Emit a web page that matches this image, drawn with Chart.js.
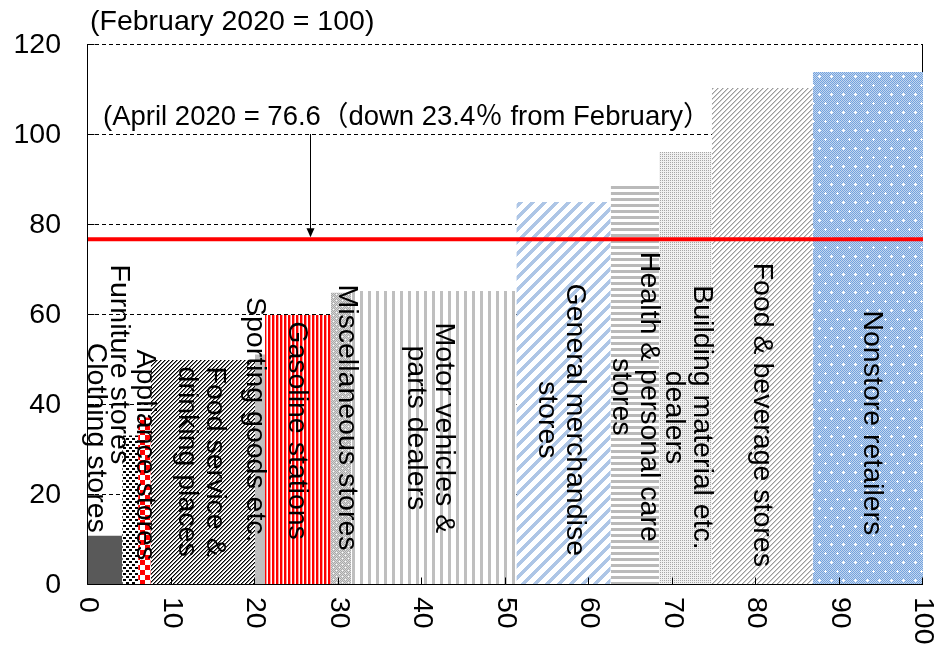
<!DOCTYPE html>
<html>
<head>
<meta charset="utf-8">
<script src="https://cdn.jsdelivr.net/npm/chart.js@4.4.1/dist/chart.umd.min.js"></script>
<style>
  html, body { margin: 0; padding: 0; background: #ffffff; }
  #wrap { width: 936px; height: 648px; position: relative; }
</style>
</head>
<body>
<div id="wrap"><canvas id="c" width="936" height="648"></canvas></div>
<script>
// Retail sales by kind of business, April 2020 (February 2020 = 100).
// Bar width = share of total sales, bar height = April index.
const categories = [
  'Clothing stores', 'Furniture stores', 'Appliance stores',
  'Food service & drinking places', 'Sporting goods etc.', 'Gasoline stations',
  'Miscellaneous stores', 'Motor vehicles & parts dealers', 'General merchandise stores',
  'Health & personal care stores', 'Building material etc. dealers',
  'Food & beverage stores', 'Nonstore retailers'
];
const shares = [4.1, 1.9, 1.5, 12.5, 1.2, 7.9, 2.4, 19.8, 11.3, 5.8, 6.3, 12.1, 13.2];
const indexValues = [10.7, 33.0, 37.0, 49.8, 51.0, 59.8, 64.7, 65.1, 84.9, 89.1, 96.0, 110.2, 113.8];
const labelLines = [
  ['Clothing stores'], ['Furniture stores'], ['Appliance stores'],
  ['Food service &', 'drinking places'], ['Sporting goods etc.'], ['Gasoline stations'],
  ['Miscellaneous stores'], ['Motor vehicles &', 'parts dealers'], ['General merchandise', 'stores'],
  ['Health & personal care', 'stores'], ['Building material etc.', 'dealers'],
  ['Food & beverage stores'], ['Nonstore retailers']
];
const yTicks = [0, 20, 40, 60, 80, 100, 120];
const xTicks = [0, 10, 20, 30, 40, 50, 60, 70, 80, 90, 100];
const aprilTotal = 76.6;
const febBase = 100;

// label anchor points (axis units): centre of each rotated text block
const labelX = [0.9, 3.7, 6.8, 13.5, 20.0, 25.0, 31.0, 40.9, 56.6, 65.5, 71.8, 80.7, 93.9];
const labelY = [32.5, 48.8, 28.7, 27.2, 36.5, 34.1, 37.0, 34.7, 36.5, 41.6, 37.0, 37.6, 35.8];

const FONT = '"Liberation Sans", Arial, "Noto Sans CJK JP", sans-serif';
const canvas = document.getElementById('c');
const ctx = canvas.getContext('2d');

// pixel-painted repeating fills
function pixTile(w, h, colorAt) {
  const c = document.createElement('canvas');
  c.width = w; c.height = h;
  const g = c.getContext('2d');
  for (let y = 0; y < h; y++) {
    for (let x = 0; x < w; x++) {
      g.fillStyle = colorAt(x, y);
      g.fillRect(x, y, 1, 1);
    }
  }
  return ctx.createPattern(c, 'repeat');
}

const fills = [
  '#595959',
  pixTile(6, 6, (x, y) => ((x < 3 && y < 2) || (x >= 3 && y >= 3 && y < 5)) ? '#000000' : '#ffffff'),
  pixTile(10, 10, (x, y) => ((Math.floor(x / 5) + Math.floor(y / 5)) % 2 === 0) ? '#ff0000' : '#ffffff'),
  pixTile(4, 4, (x, y) => { const k = (x + y) % 4; return k === 0 ? '#000000' : (k === 1 ? '#7a7a7a' : '#ffffff'); }),
  '#bfbfbf',
  pixTile(4, 1, (x) => x < 2 ? '#ff0000' : (x === 2 ? '#ff9a9a' : '#ffffff')),
  pixTile(6, 6, (x, y) => {
    if ((x === 0 && y === 0) || (x === 3 && y === 3)) return '#ffffff';
    return (x + y) % 2 === 0 ? '#a8a8a8' : '#d6d6d6';
  }),
  pixTile(8, 1, (x) => x < 3 ? '#bfbfbf' : '#ffffff'),
  pixTile(12, 12, (x, y) => ((x + y) % 12 < 5) ? '#aec6e6' : '#ffffff'),
  pixTile(1, 6, (x, y) => y < 3 ? '#bababa' : '#ffffff'),
  pixTile(2, 2, (x, y) => (x === 0 && y === 0) ? '#a6a6a6' : '#f0f0f0'),
  pixTile(5, 5, (x, y) => { const k = (x + y) % 5; return k === 0 ? '#9c9c9c' : (k === 1 ? '#cfcfcf' : '#ffffff'); }),
  pixTile(12, 18, (x, y) => {
    const plus = (cx, cy) => (x === cx && Math.abs(y - cy) <= 1) || (y === cy && Math.abs(x - cx) <= 1);
    if (plus(3, 4) || plus(9, 13)) return '#ffffff';
    return (x + y) % 2 === 0 ? '#74a2dd' : '#c3d7f0';
  })
];

// cumulative left edges from the shares
const edges = [0];
shares.forEach((s, i) => edges.push(+(edges[i] + s).toFixed(2)));

const barSets = categories.map((name, i) => ({
  label: name,
  data: [{ x: edges[i], y: indexValues[i] }, { x: edges[i + 1], y: indexValues[i] }],
  backgroundColor: fills[i],
  borderColor: 'rgba(0,0,0,0)',
  borderWidth: 0,
  pointRadius: 0,
  fill: 'origin',
  tension: 0,
  order: 1
}));

const totalLine = {
  label: 'Total',
  data: [{ x: 0, y: aprilTotal }, { x: 100, y: aprilTotal }],
  borderColor: '#ff0000',
  borderWidth: 4,
  pointRadius: 0,
  fill: false,
  order: 0
};

const crisp = v => Math.round(v) + 0.5;

const decorations = {
  id: 'decorations',
  beforeDatasetsDraw(chart) {
    const { ctx: g, chartArea: a, scales: { x, y } } = chart;
    g.save();
    // dashed horizontal grid
    g.strokeStyle = '#000000';
    g.lineWidth = 1;
    g.setLineDash([4, 3]);
    yTicks.forEach(t => {
      if (t === 0) return;
      const py = crisp(y.getPixelForValue(t));
      g.beginPath(); g.moveTo(a.left, py); g.lineTo(a.right, py); g.stroke();
    });
    g.setLineDash([]);
    // right frame edge
    const rx = Math.round(x.getPixelForValue(100)) - 0.5;
    g.beginPath(); g.moveTo(rx, a.top); g.lineTo(rx, a.bottom); g.stroke();
    g.restore();
  },
  afterDatasetsDraw(chart) {
    const { ctx: g, chartArea: a, scales: { x, y } } = chart;
    g.save();
    g.fillStyle = '#000000';
    g.strokeStyle = '#000000';
    g.lineWidth = 1;

    // category labels, rotated clockwise
    g.font = '28.5px ' + FONT;
    g.textAlign = 'center';
    g.textBaseline = 'middle';
    labelLines.forEach((lines, i) => {
      const cx = x.getPixelForValue(labelX[i]);
      const cy = y.getPixelForValue(labelY[i]);
      g.save();
      g.translate(cx, cy);
      g.rotate(Math.PI / 2);
      lines.forEach((ln, k) => g.fillText(ln, 0, (k - (lines.length - 1) / 2) * 28));
      g.restore();
    });

    // axes
    const ax = crisp(a.left) - 1;
    const ay = crisp(y.getPixelForValue(0));
    g.beginPath(); g.moveTo(ax, a.top); g.lineTo(ax, ay); g.lineTo(a.right, ay); g.stroke();
    // inward tick marks
    xTicks.forEach(t => {
      const px = crisp(x.getPixelForValue(t)) - 1;
      g.beginPath(); g.moveTo(px, ay); g.lineTo(px, ay - 7); g.stroke();
    });
    yTicks.forEach(t => {
      const py = crisp(y.getPixelForValue(t));
      g.beginPath(); g.moveTo(ax, py); g.lineTo(ax + 7, py); g.stroke();
    });

    // tick labels
    g.font = '28.5px ' + FONT;
    g.textAlign = 'right';
    g.textBaseline = 'middle';
    yTicks.forEach(t => g.fillText(String(t), a.left - 27, y.getPixelForValue(t) + 1));
    xTicks.forEach(t => {
      g.save();
      g.translate(x.getPixelForValue(t), a.bottom + 13);
      g.rotate(Math.PI / 2);
      g.textAlign = 'left';
      g.fillText(String(t), 0, 0);
      g.restore();
    });

    // base note
    g.textAlign = 'left';
    g.fillText('(February 2020 = ' + febBase + ')', a.left + 2, 22);

    // total annotation and arrow
    g.font = '27.5px ' + FONT;
    const drop = (febBase - aprilTotal).toFixed(1);
    g.fillText('(April 2020 = ' + aprilTotal + '（down ' + drop + '％ from February）',
      x.getPixelForValue(1.8), y.getPixelForValue(103.7));
    const arX = crisp(x.getPixelForValue(26.6));
    const top = y.getPixelForValue(febBase);
    const tip = y.getPixelForValue(aprilTotal) - 2;
    g.beginPath(); g.moveTo(arX, top); g.lineTo(arX, tip - 6); g.stroke();
    g.beginPath(); g.moveTo(arX, tip); g.lineTo(arX - 4, tip - 9); g.lineTo(arX + 4, tip - 9); g.closePath(); g.fill();
    g.restore();
  }
};

new Chart(canvas, {
  type: 'line',
  data: { datasets: [totalLine, ...barSets] },
  options: {
    responsive: false,
    animation: false,
    devicePixelRatio: 1,
    events: [],
    layout: { padding: { left: 88, right: 13, top: 44, bottom: 64 } },
    scales: {
      x: { type: 'linear', min: 0, max: 100, display: false },
      y: { type: 'linear', min: 0, max: 120, display: false }
    },
    plugins: { legend: { display: false }, tooltip: { enabled: false } }
  },
  plugins: [decorations]
});
</script>
</body>
</html>
